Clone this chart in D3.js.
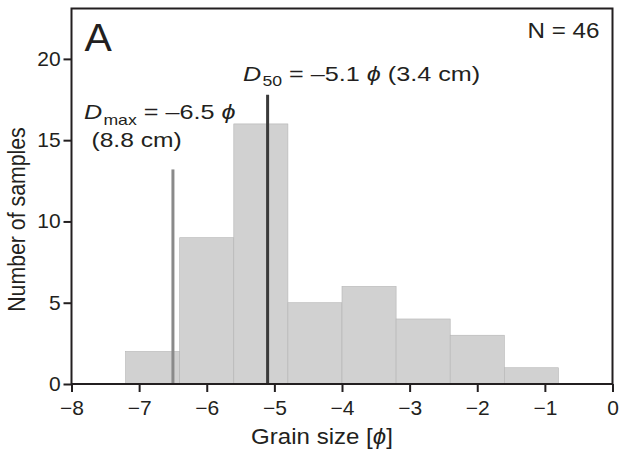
<!DOCTYPE html>
<html>
<head>
<meta charset="utf-8">
<script src="https://cdn.jsdelivr.net/npm/d3@7"></script>
<style>
  html, body { margin: 0; padding: 0; background: #fff; }
  svg text { font-family: "Liberation Sans", Arial, sans-serif; fill: #231f20; }
</style>
</head>
<body>
<svg id="chart" width="622" height="455"></svg>
<script>
// Histogram bins (grain size in phi) and sample counts
const binStarts = [-7.2, -6.4, -5.6, -4.8, -4.0, -3.2, -2.4, -1.6];
const binWidth = 0.8;
const counts = [2, 9, 16, 5, 6, 4, 3, 1];
const xTicks = [-8, -7, -6, -5, -4, -3, -2, -1, 0];
const yTicks = [0, 5, 10, 15, 20];
// Reference lines: position (phi) and drawn height (counts)
const dMax = { value: -6.5, top: 13.2, label: "\u20136.5", size: "(8.8 cm)" };
const d50 = { value: -5.1, top: 17.8, label: "\u20135.1", size: "(3.4 cm)" };
const nSamples = 46;

const svg = d3.select("#chart");
const margin = { left: 71.5, right: 9.5, top: 8.5, bottom: 71 };
const W = 622, H = 455;

const x = d3.scaleLinear().domain([-8, 0]).range([margin.left, W - margin.right]);
const y = d3.scaleLinear().domain([0, 23.1]).range([H - margin.bottom, margin.top]);

// Text helper: wide-set lettering via a horizontal scale
function label(px, py, size, sx, anchor) {
  return svg.append("text")
    .attr("transform", `translate(${px},${py}) scale(${sx},1)`)
    .attr("font-size", size)
    .attr("text-anchor", anchor || "start");
}

// Bars
svg.append("g").selectAll("rect")
  .data(binStarts.map((s, i) => ({ s, c: counts[i] })))
  .join("rect")
  .attr("x", d => x(d.s))
  .attr("width", d => x(d.s + binWidth) - x(d.s))
  .attr("y", d => y(d.c))
  .attr("height", d => y(0) - y(d.c))
  .attr("fill", "#d1d1d1")
  .attr("stroke", "#b4b4b4")
  .attr("stroke-width", 0.6);

// Dmax and D50 lines
svg.append("line")
  .attr("x1", x(dMax.value)).attr("x2", x(dMax.value))
  .attr("y1", y(0)).attr("y2", y(dMax.top))
  .attr("stroke", "#8a8a8a").attr("stroke-width", 3);
svg.append("line")
  .attr("x1", x(d50.value)).attr("x2", x(d50.value))
  .attr("y1", y(0)).attr("y2", y(d50.top))
  .attr("stroke", "#3a3a3a").attr("stroke-width", 3);

// Frame
svg.append("rect")
  .attr("x", margin.left).attr("y", margin.top)
  .attr("width", W - margin.right - margin.left)
  .attr("height", H - margin.bottom - margin.top)
  .attr("fill", "none").attr("stroke", "#231f20").attr("stroke-width", 2);

// Axes
const tickSx = 1.05;
const fmt = d => d < 0 ? "\u2212" + Math.abs(d) : String(d);
const xAxis = svg.append("g")
  .attr("transform", `translate(0,${y(0)})`)
  .call(d3.axisBottom(x).tickValues(xTicks).tickFormat(fmt).tickSize(8));
const yAxis = svg.append("g")
  .attr("transform", `translate(${margin.left},0)`)
  .call(d3.axisLeft(y).tickValues(yTicks).tickSize(8));
[xAxis, yAxis].forEach(g => {
  g.select(".domain").remove();
  g.selectAll(".tick line").attr("stroke", "#231f20").attr("stroke-width", 2);
  g.selectAll(".tick text").attr("font-size", 20).attr("fill", "#231f20")
    .attr("transform", `scale(${tickSx},1)`)
    .style("font-family", "'Liberation Sans', Arial, sans-serif");
});
xAxis.selectAll(".tick text").attr("y", 17).attr("dy", "0.71em");
yAxis.selectAll(".tick text").attr("x", -10.8 / tickSx);

// Axis titles
const xt = label(322, 444, 21.5, 1.12, "middle");
xt.append("tspan").text("Grain size [");
xt.append("tspan").attr("font-style", "italic").text("\u03D5");
xt.append("tspan").text("]");

svg.append("text")
  .attr("transform", `translate(25,219.5) rotate(-90) scale(1,1.1)`)
  .attr("text-anchor", "middle").attr("font-size", 21.3)
  .text("Number of samples");

// Panel letter and sample count
label(84.5, 51, 39, 1.05).text("A");
label(599.5, 37.7, 22, 1.1, "end").text(`N = ${nSamples}`);

// D50 annotation
const annSx = 1.26;
const t50 = label(243, 81, 20, annSx);
t50.append("tspan").attr("font-style", "italic").text("D");
t50.append("tspan").attr("font-size", 14).attr("dx", 1).attr("dy", 5).text("50");
t50.append("tspan").attr("dy", -5).text(` = ${d50.label} `);
t50.append("tspan").attr("font-style", "italic").text("\u03D5");
t50.append("tspan").text(` ${d50.size}`);

// Dmax annotation
const tmax = label(84, 119.3, 20, annSx);
tmax.append("tspan").attr("font-style", "italic").text("D");
tmax.append("tspan").attr("font-size", 14).attr("dx", 1).attr("dy", 6).text("max");
tmax.append("tspan").attr("dy", -6).text(` = ${dMax.label} `);
tmax.append("tspan").attr("font-style", "italic").text("\u03D5");
label(91.5, 147.3, 20, 1.23).text(dMax.size);
</script>
</body>
</html>
